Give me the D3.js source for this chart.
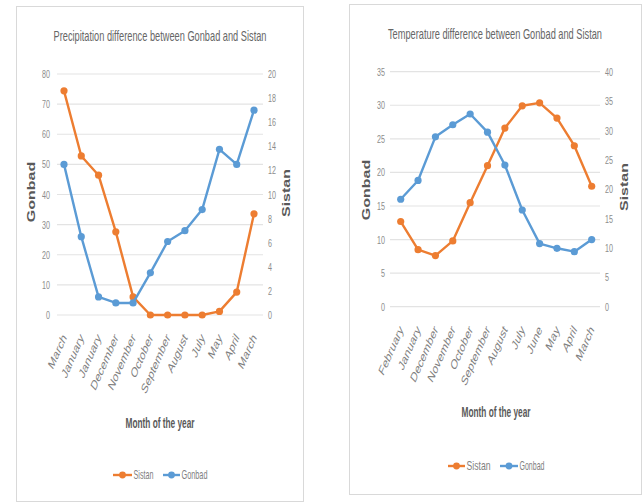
<!DOCTYPE html>
<html>
<head>
<meta charset="utf-8">
<script src="https://cdn.jsdelivr.net/npm/d3@7/dist/d3.min.js"></script>
<style>
  html, body { margin: 0; padding: 0; background: #fff; }
  svg { display: block; }
  text { font-family: "Liberation Sans", Arial, sans-serif; }
</style>
</head>
<body>
<svg id="chart" width="642" height="504"></svg>
<script>
// Precipitation panel
const precipMonths = ["March", "January", "January", "December", "November", "October",
                      "September", "August", "July", "May", "April", "March"];
const precipGonbad = [50, 26, 6, 4, 4, 14, 24.4, 28, 35, 55, 50, 68];
const precipSistan = [18.6, 13.2, 11.6, 6.9, 1.5, 0, 0, 0, 0, 0.3, 1.9, 8.4];
const precipLeftTicks = [0, 10, 20, 30, 40, 50, 60, 70, 80];
const precipRightTicks = [0, 2, 4, 6, 8, 10, 12, 14, 16, 18, 20];

// Temperature panel
const tempMonths = ["February", "January", "December", "November", "October", "September",
                    "August", "July", "June", "May", "April", "March"];
const tempGonbad = [16, 18.8, 25.3, 27.1, 28.7, 26, 21.1, 14.4, 9.4, 8.7, 8.2, 10];
const tempSistan = [14.5, 9.7, 8.7, 11.2, 17.7, 24, 30.4, 34.2, 34.7, 32.1, 27.4, 20.5];
const tempLeftTicks = [0, 5, 10, 15, 20, 25, 30, 35];
const tempRightTicks = [0, 5, 10, 15, 20, 25, 30, 35, 40];

const seriesNames = ["Sistan", "Gonbad"];
const ORANGE = "#ED7D31";
const BLUE = "#5B9BD5";

// Text is drawn narrow: horizontal squeeze applied to every label
const SX = 0.65;
const squeeze = (x, y, rot) =>
  `translate(${x},${y}) scale(${SX},1)` + (rot ? ` rotate(${rot})` : "");

const svg = d3.select("#chart");

function drawPanel(cfg) {
  const g = svg.append("g");

  g.append("rect")
    .attr("x", cfg.box[0] + 0.5).attr("y", cfg.box[1] + 0.5)
    .attr("width", cfg.box[2] - cfg.box[0]).attr("height", cfg.box[3] - cfg.box[1])
    .attr("fill", "#fff").attr("stroke", "#d9d9d9").attr("stroke-width", 1);

  const x = d3.scalePoint().domain(d3.range(cfg.months.length)).range(cfg.xRange);
  const yL = d3.scaleLinear().domain(cfg.leftDomain).range(cfg.yRange);
  const yR = d3.scaleLinear().domain(cfg.rightDomain).range(cfg.yRange);

  // gridlines
  g.append("g").selectAll("line").data(cfg.leftTicks).join("line")
    .attr("x1", cfg.gridX[0]).attr("x2", cfg.gridX[1])
    .attr("y1", d => yL(d)).attr("y2", d => yL(d))
    .attr("stroke", "#e3e3e3").attr("stroke-width", 1.2);

  // left axis labels
  const leftAxis = d3.axisLeft(yL).tickValues(cfg.leftTicks).tickSize(0).tickPadding(0);
  const la = g.append("g").attr("transform", `translate(${cfg.leftLabelX},0)`).call(leftAxis);
  la.select(".domain").remove();
  la.selectAll(".tick text")
    .attr("x", null).attr("dy", null)
    .attr("transform", squeeze(0, 0))
    .attr("dominant-baseline", "central")
    .attr("font-size", 11).attr("fill", "#8c8c8c")
    .style("font-family", "'Liberation Sans', Arial, sans-serif");

  // right axis labels
  const rightAxis = d3.axisRight(yR).tickValues(cfg.rightTicks).tickSize(0).tickPadding(0);
  const ra = g.append("g").attr("transform", `translate(${cfg.rightLabelX},0)`).call(rightAxis);
  ra.select(".domain").remove();
  ra.selectAll(".tick text")
    .attr("x", null).attr("dy", null)
    .attr("transform", squeeze(0, 0))
    .attr("dominant-baseline", "central")
    .attr("font-size", 11).attr("fill", "#8c8c8c")
    .style("font-family", "'Liberation Sans', Arial, sans-serif");

  // month labels
  g.append("g").selectAll("text").data(cfg.months).join("text")
    .attr("transform", (d, i) => squeeze(x(i) + cfg.monthDx, cfg.monthY, -56))
    .attr("text-anchor", "end")
    .attr("font-size", 14).attr("fill", "#7f7f7f")
    .text(d => d);

  // title
  g.append("text")
    .attr("transform", squeeze(cfg.titlePos[0], cfg.titlePos[1]))
    .attr("text-anchor", "middle")
    .attr("font-size", 14).attr("fill", "#666")
    .attr("textLength", cfg.titleWidth / SX).attr("lengthAdjust", "spacingAndGlyphs")
    .text(cfg.title);

  // axis titles
  g.append("text")
    .attr("transform", squeeze(cfg.leftTitle[0], cfg.leftTitle[1], -90))
    .attr("text-anchor", "middle").attr("dominant-baseline", "central")
    .attr("font-size", 16).attr("font-weight", "bold").attr("fill", "#595959")
    .text("Gonbad");
  g.append("text")
    .attr("transform", squeeze(cfg.rightTitle[0], cfg.rightTitle[1], -90))
    .attr("text-anchor", "middle").attr("dominant-baseline", "central")
    .attr("font-size", 16).attr("font-weight", "bold").attr("fill", "#595959")
    .text("Sistan");

  g.append("text")
    .attr("transform", squeeze(cfg.xTitle[0], cfg.xTitle[1]))
    .attr("text-anchor", "middle").attr("dominant-baseline", "central")
    .attr("font-size", 14).attr("font-weight", "bold").attr("fill", "#595959")
    .attr("textLength", 69 / SX).attr("lengthAdjust", "spacingAndGlyphs")
    .text("Month of the year");

  // series
  const series = [
    { name: "Sistan", values: cfg.sistan, y: yR, color: ORANGE },
    { name: "Gonbad", values: cfg.gonbad, y: yL, color: BLUE }
  ];
  series.forEach(s => {
    const line = d3.line().x((d, i) => x(i)).y(d => s.y(d));
    g.append("path").datum(s.values)
      .attr("d", line).attr("fill", "none")
      .attr("stroke", s.color).attr("stroke-width", 2.4)
      .attr("stroke-linejoin", "round");
    g.append("g").selectAll("circle").data(s.values).join("circle")
      .attr("cx", (d, i) => x(i)).attr("cy", d => s.y(d))
      .attr("r", 3.6).attr("fill", s.color);
  });

  // legend
  const legendItems = [
    { name: seriesNames[0], color: ORANGE, x0: cfg.legend[0][0], x1: cfg.legend[0][1], w: cfg.legend[0][2] },
    { name: seriesNames[1], color: BLUE, x0: cfg.legend[1][0], x1: cfg.legend[1][1], w: cfg.legend[1][2] }
  ];
  const lg = g.append("g");
  legendItems.forEach(it => {
    lg.append("line")
      .attr("x1", it.x0).attr("x2", it.x1).attr("y1", cfg.legendY).attr("y2", cfg.legendY)
      .attr("stroke", it.color).attr("stroke-width", 2.4);
    lg.append("circle")
      .attr("cx", (it.x0 + it.x1) / 2).attr("cy", cfg.legendY).attr("r", 3.4).attr("fill", it.color);
    lg.append("text")
      .attr("transform", squeeze(it.x1 + 1.5, cfg.legendY))
      .attr("dominant-baseline", "central")
      .attr("font-size", 12).attr("fill", "#7f7f7f")
      .attr("textLength", it.w / SX).attr("lengthAdjust", "spacingAndGlyphs")
      .text(it.name);
  });
}

drawPanel({
  box: [16, 6, 303, 501],
  months: precipMonths, gonbad: precipGonbad, sistan: precipSistan,
  leftTicks: precipLeftTicks, rightTicks: precipRightTicks,
  leftDomain: [0, 80], rightDomain: [0, 20],
  xRange: [64, 254], yRange: [315, 74], gridX: [57, 263],
  leftLabelX: 50, rightLabelX: 268,
  monthDx: 3, monthY: 338,
  title: "Precipitation difference between Gonbad and Sistan",
  titlePos: [160, 41], titleWidth: 213,
  leftTitle: [32, 192], rightTitle: [287, 193],
  xTitle: [160, 423],
  legendY: 475, legend: [[113, 132, 20], [163, 180, 26]]
});

drawPanel({
  box: [349, 4, 641, 494],
  months: tempMonths, gonbad: tempGonbad, sistan: tempSistan,
  leftTicks: tempLeftTicks, rightTicks: tempRightTicks,
  leftDomain: [0, 35], rightDomain: [0, 40],
  xRange: [400.7, 591.7], yRange: [306.7, 71.7], gridX: [390, 600],
  leftLabelX: 385, rightLabelX: 605,
  monthDx: 3, monthY: 330,
  title: "Temperature difference between Gonbad and Sistan",
  titlePos: [495, 39], titleWidth: 214,
  leftTitle: [367, 190], rightTitle: [625, 187],
  xTitle: [496, 412],
  legendY: 466, legend: [[448, 465, 24], [500, 518, 25]]
});
</script>
</body>
</html>
